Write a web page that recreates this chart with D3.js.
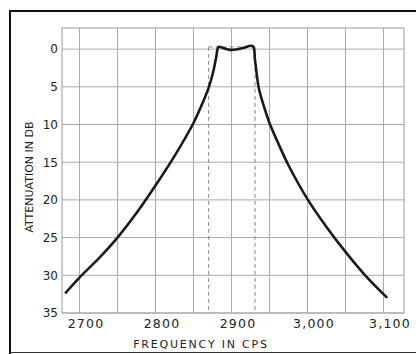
<!DOCTYPE html>
<html>
<head>
<meta charset="utf-8">
<script src="https://cdn.jsdelivr.net/npm/d3@7"></script>
<style>
  html, body { margin: 0; padding: 0; background: #fff; }
  svg { display: block; }
  text { font-family: "DejaVu Sans", sans-serif; fill: #222; }
</style>
</head>
<body>
<svg id="chart" width="416" height="354"></svg>
<script>
// ---- data ----
const frequency = [2682, 2700, 2725, 2750, 2775, 2800, 2825, 2850, 2860, 2870, 2876, 2880, 2883, 2889, 2898, 2906, 2915, 2928, 2931, 2936, 2943, 2950, 2962, 2975, 3000, 3025, 3050, 3075, 3104];
const attenuation = [32.3, 30.3, 27.8, 25.0, 21.75, 18.1, 14.2, 9.8, 7.6, 5.1, 3.0, 1.0, -0.3, -0.15, 0.1, 0.05, -0.15, -0.4, 1.5, 5.2, 7.7, 9.8, 12.6, 15.4, 19.9, 23.6, 26.9, 29.9, 32.9];
const xTicks = [2700, 2800, 2900, 3000, 3100];
const xTickLabels = ["2700", "2800", "2900", "3,000", "3,100"];
const yTicks = [0, 5, 10, 15, 20, 25, 30, 35];
const xGrid = [2700, 2750, 2800, 2850, 2900, 2950, 3000, 3050, 3100];
const passbandEdges = [2870, 2931];
const passbandTop = -0.3;
const xTitle = "FREQUENCY IN CPS";
const yTitle = "ATTENUATION IN DB";

(function () {
// ---- layout ----
const svg = d3.select("#chart");
const pL = 62, pR = 404, pT = 28, pB = 313;
const x = d3.scaleLinear().domain([2677, 3127]).range([pL, pR]);
const y = d3.scaleLinear().domain([-2.8, 35]).range([pT, pB]);

// outer frame (top, left, bottom)
svg.append("path")
  .attr("d", "M416,11 L10,11 L10,354")
  .attr("fill", "none").attr("stroke", "#111").attr("stroke-width", 2);
svg.append("line").attr("x1", 10).attr("x2", 416).attr("y1", 352.5).attr("y2", 352.5)
  .attr("stroke", "#333").attr("stroke-width", 1.2);

// plot frame
svg.append("rect")
  .attr("x", pL).attr("y", pT).attr("width", pR - pL).attr("height", pB - pT)
  .attr("fill", "none").attr("stroke", "#999").attr("stroke-width", 1);

// grid
svg.append("g").selectAll("line").data(xGrid).join("line")
  .attr("x1", d => x(d)).attr("x2", d => x(d)).attr("y1", pT).attr("y2", pB)
  .attr("stroke", "#aaa").attr("stroke-width", 1);
svg.append("g").selectAll("line").data(yTicks).join("line")
  .attr("y1", d => y(d)).attr("y2", d => y(d)).attr("x1", pL).attr("x2", pR)
  .attr("stroke", "#aaa").attr("stroke-width", 1);

// axes labels via d3 axes
const xAxis = d3.axisBottom(x).tickValues(xTicks).tickSize(0).tickPadding(0)
  .tickFormat((d, i) => xTickLabels[i]);
const gx = svg.append("g").attr("transform", `translate(6,${pB + 6})`).call(xAxis);
gx.select(".domain").remove();
gx.selectAll("text").attr("font-size", 12.5).attr("letter-spacing", 1.2)
  .attr("font-family", "DejaVu Sans, sans-serif").attr("fill", "#222");

const yAxis = d3.axisLeft(y).tickValues(yTicks).tickSize(0).tickPadding(0);
const gy = svg.append("g").attr("transform", `translate(${pL - 4},0)`).call(yAxis);
gy.select(".domain").remove();
gy.selectAll("text").attr("font-size", 12)
  .attr("font-family", "DejaVu Sans, sans-serif").attr("fill", "#222");

// passband dashed box
const dash = "4,3";
passbandEdges.forEach(f => {
  svg.append("line")
    .attr("x1", x(f)).attr("x2", x(f)).attr("y1", y(passbandTop)).attr("y2", pB)
    .attr("stroke", "#888").attr("stroke-width", 1).attr("stroke-dasharray", dash);
});
svg.append("line")
  .attr("x1", x(passbandEdges[0])).attr("x2", x(passbandEdges[1]))
  .attr("y1", y(passbandTop)).attr("y2", y(passbandTop))
  .attr("stroke", "#888").attr("stroke-width", 1).attr("stroke-dasharray", dash);

// curve
const pts = frequency.map((f, i) => [f, attenuation[i]]);
const line = d3.line().x(d => x(d[0])).y(d => y(d[1])).curve(d3.curveCatmullRom.alpha(0.5));
svg.append("path").datum(pts)
  .attr("d", line)
  .attr("fill", "none").attr("stroke", "#1a1a1a").attr("stroke-width", 2.6)
  .attr("stroke-linejoin", "round").attr("stroke-linecap", "round");

// titles
svg.append("text").attr("x", 201).attr("y", 347.5).attr("text-anchor", "middle")
  .attr("font-size", 11).attr("letter-spacing", 1.8).text(xTitle);
svg.append("text").attr("transform", "translate(33,177) rotate(-90)")
  .attr("text-anchor", "middle").attr("font-size", 11).attr("letter-spacing", 0).text(yTitle);
})();
</script>
</body>
</html>
